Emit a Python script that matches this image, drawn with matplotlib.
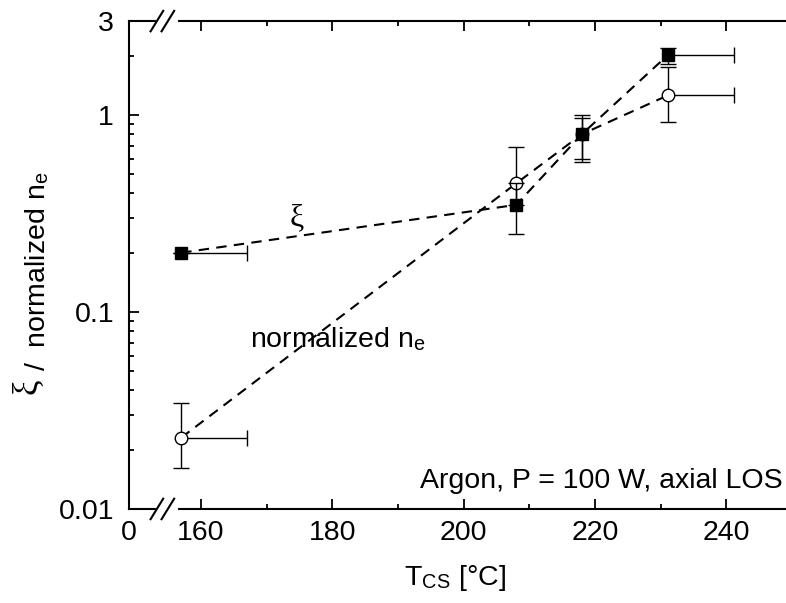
import matplotlib
matplotlib.use("Agg")
import matplotlib.pyplot as plt
import numpy as np
from matplotlib.ticker import FixedLocator, NullFormatter, LogLocator

plt.rcParams['font.family'] = ['Liberation Sans', 'DejaVu Sans']
plt.rcParams['mathtext.fontset'] = 'stix'

# Cold-spot temperature [°C]
t_cs = [157.0, 208.0, 218.0, 231.1]
t_err = [10.0, 0.0, 0.0, 10.0]

# xi values with asymmetric errors
xi = [0.20, 0.35, 0.80, 2.02]
xi_lo = [0.20, 0.25, 0.60, 1.82]
xi_hi = [0.20, 0.45, 0.97, 2.20]

# normalized electron density with asymmetric errors
ne = [0.023, 0.45, 0.80, 1.26]
ne_lo = [0.0161, 0.35, 0.58, 0.92]
ne_hi = [0.0345, 0.69, 1.00, 1.75]

x_ticks = [160, 180, 200, 220, 240]
x_lim = (149.1, 249.3)
y_lim = (0.01, 3)
y_ticks = [0.01, 0.1, 1, 3]
y_ticklabels = ["0.01", "0.1", "1", "3"]

FS = 20.5
W, H = 786, 603

fig = plt.figure(figsize=(W / 100, H / 100), dpi=100)
ax = fig.add_axes([0.1645, 0.156, 0.8375, 0.809])
ax.set_yscale('log')
ax.set_xlim(*x_lim)
ax.set_ylim(*y_lim)

lw_err = 1.0
dash = (0, (5, 3.5))


def draw_errors(x, y, ylo, yhi, xhi_err, z):
    """Vertical bars with caps on both ends; one-sided horizontal bars capped at the far end."""
    x = np.asarray(x)
    y = np.asarray(y)
    yerr = [y - np.asarray(ylo), np.asarray(yhi) - y]
    ax.errorbar(x, y, yerr=yerr, fmt='none', ecolor='black', elinewidth=lw_err,
                capsize=6, capthick=lw_err, zorder=z)
    xe = np.asarray(xhi_err)
    m = xe > 0
    ax.errorbar(x[m], y[m], xerr=[np.zeros(m.sum()), xe[m]], fmt='none', ecolor='black',
                elinewidth=lw_err, capsize=0, zorder=z)
    ax.plot(x[m] + xe[m], y[m], ls='none', marker='|', ms=12, mew=lw_err, color='black',
            zorder=z)


# n_e series: bars under the open circles
draw_errors(t_cs, ne, ne_lo, ne_hi, t_err, 3)
ax.plot(t_cs, ne, ls=dash, color='black', lw=1.5, zorder=2)
ax.plot(t_cs, ne, ls='none', marker='o', ms=9, mfc='white', mec='black', mew=1.0, zorder=4)

# xi series
draw_errors(t_cs, xi, xi_lo, xi_hi, t_err, 5)
ax.plot(t_cs, xi, ls=dash, color='black', lw=1.5, zorder=2)
ax.plot(t_cs, xi, ls='none', marker='s', ms=8, mfc='black', mec='black', zorder=6)

# axes styling
for s in ['left', 'top', 'bottom']:
    ax.spines[s].set_linewidth(1.5)
ax.spines['right'].set_visible(False)

ax.set_xticks([x_lim[0]] + x_ticks)
ax.set_xticklabels(["0"] + [str(v) for v in x_ticks])
ax.xaxis.set_minor_locator(FixedLocator([170, 190, 210, 230]))
ax.set_yticks(y_ticks)
ax.set_yticklabels(y_ticklabels)
ax.yaxis.set_minor_locator(LogLocator(base=10, subs=np.arange(2, 10)))
ax.yaxis.set_minor_formatter(NullFormatter())

ax.tick_params(which='major', direction='in', length=7, width=1.3, labelsize=FS,
               top=True, right=False, pad=8)
ax.tick_params(which='minor', direction='in', length=3.5, width=1.3, top=True, right=False)
ax.tick_params(axis='y', pad=11)
# the "0" position carries a label only
ax.xaxis.get_major_ticks()[0].tick1line.set_visible(False)
ax.xaxis.get_major_ticks()[0].tick2line.set_visible(False)

# axis break marks near the left end of the x axis
xt = ax.get_xaxis_transform()
for ypos in (0.0, 1.0):
    ax.plot([153.5, 156.2], [ypos, ypos], color='white', lw=3, transform=xt,
            clip_on=False, zorder=9)
    for xb in (153.3, 154.97):
        ax.plot([xb - 0.96, xb + 0.96], [ypos - 0.021, ypos + 0.021], color='black', lw=1.5,
                transform=xt, clip_on=False, zorder=10)

# axis titles
fig.text(0.579, 0.041, r"T$_\mathregular{CS}$ [°C]", ha='center', va='center', fontsize=FS)
fig.text(28 / W, 1 - 386 / H, "ξ", ha='center', va='center', rotation=90, fontsize=25,
         family=['Liberation Serif', 'DejaVu Serif'])
fig.text(45 / W, 1 - 371 / H, r"/  normalized n$_\mathregular{e}$", rotation=90,
         rotation_mode='anchor', ha='left', va='baseline', fontsize=FS)

# in-plot annotations
ax.text(174.6, 0.30, "ξ", fontsize=23, family=['Liberation Serif', 'DejaVu Serif'],
        ha='center', va='center')
ax.text(167.4, 0.0664, r"normalized n$_\mathregular{e}$", fontsize=FS, ha='left', va='baseline')
ax.text(0.992, 0.043, "Argon, P = 100 W, axial LOS", transform=ax.transAxes, fontsize=FS,
        ha='right', va='baseline')

fig.savefig("out.png", dpi=100)
